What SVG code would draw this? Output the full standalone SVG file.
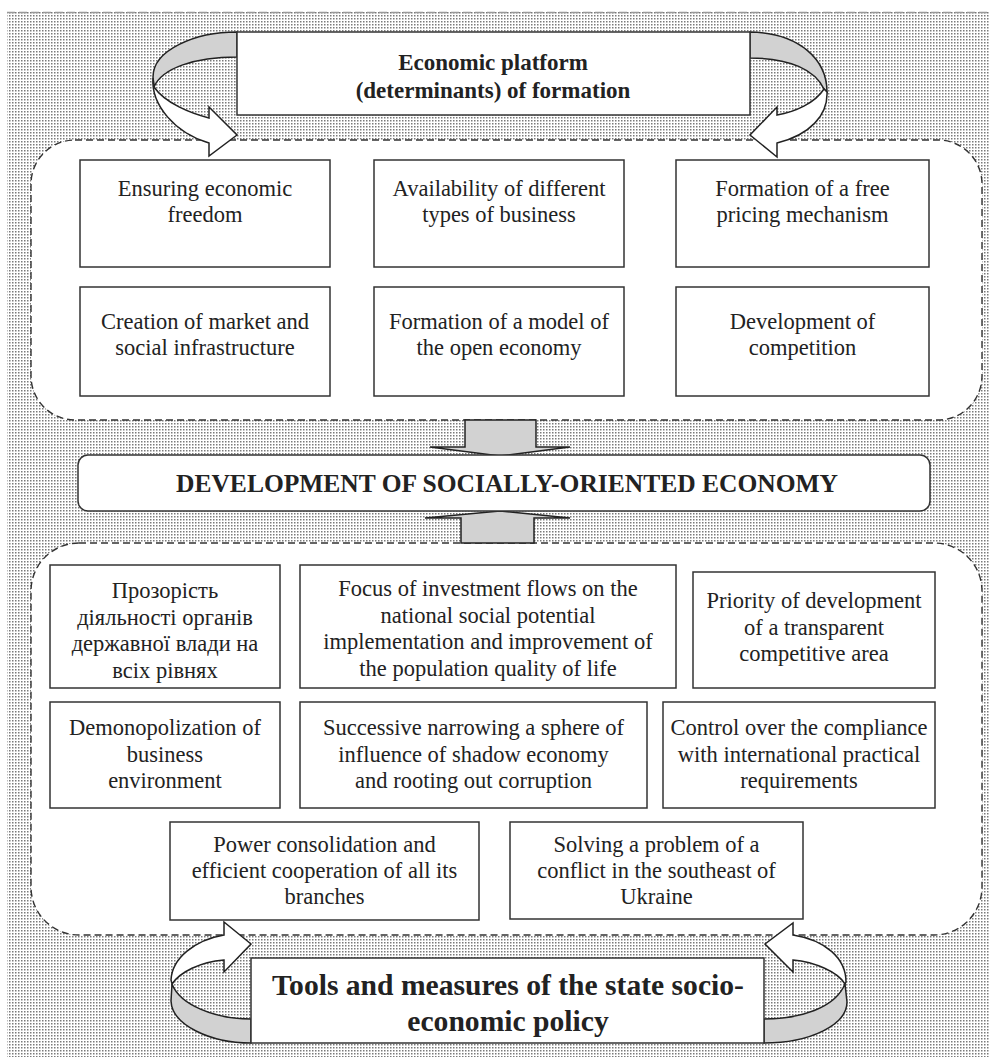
<svg xmlns="http://www.w3.org/2000/svg" width="990" height="1057" viewBox="0 0 990 1057">
<defs>
<pattern id="dots" width="3" height="3" patternUnits="userSpaceOnUse">
<rect width="3" height="3" fill="#ffffff"/>
<rect width="1.5" height="1.5" fill="#7a7a7a"/>
</pattern>
<style>
.box{fill:#fff;stroke:#333;stroke-width:1.5}
.dash{fill:#fff;stroke:#333;stroke-width:1.4;stroke-dasharray:7 4}
.t{font-family:"Liberation Serif","Times New Roman",serif;font-size:22.5px;fill:#222;text-anchor:middle}
.tb{font-family:"Liberation Serif","Times New Roman",serif;font-weight:bold;fill:#222;text-anchor:middle}
.gray{fill:#d2d2d2;stroke:#222;stroke-width:1.5;stroke-linejoin:miter}
.white{fill:#fff;stroke:#222;stroke-width:1.5;stroke-linejoin:miter}
</style>
</defs>
<rect x="7" y="12" width="983" height="1045" fill="url(#dots)"/>
<line x1="7" y1="12.5" x2="990" y2="12.5" stroke="#999" stroke-width="1.5" stroke-dasharray="8 4"/>

<g id="upper-area">
<rect class="dash" x="31" y="140" width="951" height="280" rx="44" ry="44"/>
</g>
<g id="lower-area">
<rect class="dash" x="31" y="543" width="951" height="392" rx="48" ry="48"/>
</g>

<g id="connectors">
<path class="gray" d="M237,32 C195,32 153,50 153,77 L154,87 C162,68 195,57 237,57 Z"/>
<path class="white" d="M153,78 C151,105 175,133 209,143 L209,156 L237,135 L209,107 L209,118 C190,113 165,103 154,87 Z"/>
<path class="gray" d="M750,32 C800,33 827,60 827,92 L824,89 C815,70 790,58 750,58 Z"/>
<path class="white" d="M827,92 C828,115 810,135 777,143 L777,157 L750,135 L777,107 L777,115 C795,112 815,103 824,89 Z"/>
<path class="gray" d="M465,420 L536,420 L536,447 L570,447 L500,456 L430,447 L465,447 Z"/>
<path class="gray" d="M461,543 L534,543 L534,518 L570,518 L500,511 L425,518 L461,518 Z"/>
<path class="gray" d="M172,984 C180,1005 215,1019 251,1019 L251,1043 C210,1043 172,1025 171,1001 Z"/>
<path class="white" d="M171,980 C172,958 195,940 224,935 L224,922 L251,944 L224,972 L224,960 C200,962 180,972 172,984 Z"/>
<path class="gray" d="M845,984 C835,1008 800,1019 764,1019 L764,1043 C810,1043 847,1025 847,1002 Z"/>
<path class="white" d="M846,982 C846,958 825,940 793,935 L793,923 L765,944 L793,972 L793,960 C815,962 838,972 845,984 Z"/>
</g>

<g id="platform">
<rect class="box" x="237" y="32" width="513" height="83"/>
<text class="tb" font-size="23" x="493" y="70">Economic platform</text>
<text class="tb" font-size="23" x="493" y="98">(determinants) of formation</text>
</g>

<g id="u1"><rect class="box" x="80" y="160" width="250" height="107"/>
<text class="t" x="205" y="196">Ensuring economic</text><text class="t" x="205" y="222">freedom</text></g>
<g id="u2"><rect class="box" x="374" y="160" width="250" height="107"/>
<text class="t" x="499" y="196">Availability of different</text><text class="t" x="499" y="222">types of business</text></g>
<g id="u3"><rect class="box" x="676" y="160" width="253" height="107"/>
<text class="t" x="802.5" y="196">Formation of a free</text><text class="t" x="802.5" y="222">pricing mechanism</text></g>
<g id="u4"><rect class="box" x="80" y="287" width="250" height="109"/>
<text class="t" x="205" y="329">Creation of market and</text><text class="t" x="205" y="355">social infrastructure</text></g>
<g id="u5"><rect class="box" x="374" y="287" width="250" height="109"/>
<text class="t" x="499" y="329">Formation of a model of</text><text class="t" x="499" y="355">the open economy</text></g>
<g id="u6"><rect class="box" x="676" y="287" width="253" height="109"/>
<text class="t" x="802.5" y="329">Development of</text><text class="t" x="802.5" y="355">competition</text></g>

<g id="development">
<rect class="box" x="78" y="455" width="852" height="56" rx="10" ry="10"/>
<text class="tb" font-size="25.5" x="507" y="492">DEVELOPMENT OF SOCIALLY-ORIENTED ECONOMY</text>
</g>

<g id="l1"><rect class="box" x="50" y="565" width="230" height="123"/>
<text class="t" x="165" y="598">Прозорість</text><text class="t" x="165" y="624.5">діяльності органів</text><text class="t" x="165" y="651">державної влади на</text><text class="t" x="165" y="677.5">всіх рівнях</text></g>
<g id="l2"><rect class="box" x="300" y="565" width="376" height="123"/>
<text class="t" x="488" y="596">Focus of investment flows on the</text><text class="t" x="488" y="622.5">national social potential</text><text class="t" x="488" y="649">implementation and improvement of</text><text class="t" x="488" y="675.5">the population quality of life</text></g>
<g id="l3"><rect class="box" x="693" y="572" width="242" height="116"/>
<text class="t" x="814" y="608">Priority of development</text><text class="t" x="814" y="634.5">of a transparent</text><text class="t" x="814" y="661">competitive area</text></g>
<g id="l4"><rect class="box" x="50" y="702" width="230" height="106"/>
<text class="t" x="165" y="735">Demonopolization of</text><text class="t" x="165" y="762">business</text><text class="t" x="165" y="788">environment</text></g>
<g id="l5"><rect class="box" x="300" y="702" width="347" height="106"/>
<text class="t" x="473.5" y="735">Successive narrowing a sphere of</text><text class="t" x="473.5" y="762">influence of shadow economy</text><text class="t" x="473.5" y="788">and rooting out corruption</text></g>
<g id="l6"><rect class="box" x="663" y="702" width="272" height="106"/>
<text class="t" x="799" y="735">Control over the compliance</text><text class="t" x="799" y="762">with international practical</text><text class="t" x="799" y="788">requirements</text></g>
<g id="l7"><rect class="box" x="170" y="822" width="309" height="98"/>
<text class="t" x="324.5" y="852">Power consolidation and</text><text class="t" x="324.5" y="878">efficient cooperation of all its</text><text class="t" x="324.5" y="904">branches</text></g>
<g id="l8"><rect class="box" x="510" y="822" width="293" height="97"/>
<text class="t" x="656.5" y="852">Solving a problem of a</text><text class="t" x="656.5" y="878">conflict in the southeast of</text><text class="t" x="656.5" y="904">Ukraine</text></g>

<g id="tools">
<rect class="box" x="251" y="958" width="513" height="85"/>
<text class="tb" font-size="29.6" x="508" y="995">Tools and measures of the state socio-</text>
<text class="tb" font-size="29.6" x="508" y="1031">economic policy</text>
</g>
</svg>
